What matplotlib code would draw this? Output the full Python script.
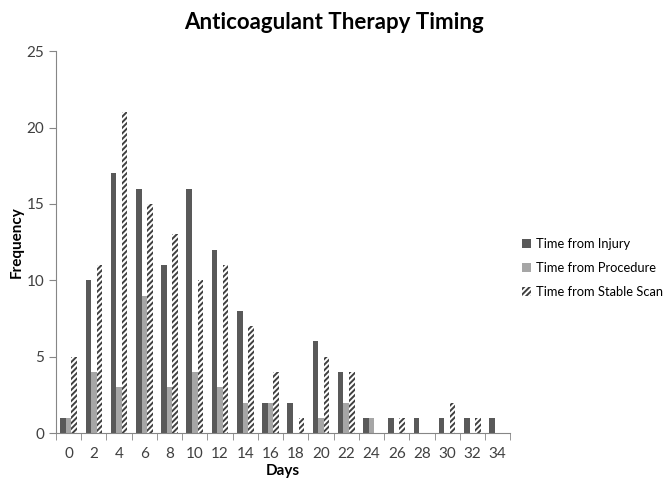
import matplotlib.pyplot as plt
import numpy as np

plt.rcParams['font.family'] = ['Lato', 'DejaVu Sans']
plt.rcParams['hatch.linewidth'] = 1.4

days = [0, 2, 4, 6, 8, 10, 12, 14, 16, 18, 20, 22, 24, 26, 28, 30, 32, 34]
injury = [1, 10, 17, 16, 11, 16, 12, 8, 2, 2, 6, 4, 1, 1, 1, 1, 1, 1]
procedure = [1, 4, 3, 9, 3, 4, 3, 2, 2, 0, 1, 2, 1, 0, 0, 0, 0, 0]
stable = [5, 11, 21, 15, 13, 10, 11, 7, 4, 1, 5, 4, 0, 1, 0, 2, 1, 0]

fig = plt.figure(figsize=(6.67, 4.78), dpi=100)
ax = fig.add_axes([0.084, 0.094, 0.681, 0.799])

x = np.arange(len(days))
w = 0.22
ax.bar(x - w, injury, w, color='#595959', label='Time from Injury')
ax.bar(x, procedure, w, color='#a6a6a6', label='Time from Procedure')
ax.bar(x + w, stable, w, color='white', edgecolor='#404040', linewidth=0,
       hatch='//////', label='Time from Stable Scan')

ax.set_xlim(-0.5, len(days) - 0.5)
ax.set_ylim(0, 25)
ax.set_yticks(range(0, 26, 5))
ax.set_xticks(x)
ax.set_xticklabels([str(d) for d in days])
ax.set_xticks(np.arange(-0.5, len(days), 1), minor=True)
ax.tick_params(axis='x', which='major', length=0, pad=10)
ax.tick_params(axis='x', which='minor', length=5, color='#868686')
ax.tick_params(axis='y', length=5, color='#868686')
ax.tick_params(labelsize=11, labelcolor='#404040')

for s in ['top', 'right']:
    ax.spines[s].set_visible(False)
for s in ['left', 'bottom']:
    ax.spines[s].set_color('#868686')

ax.set_xlabel('Days', fontsize=11, fontweight='bold')
ax.xaxis.set_label_coords(0.5, -0.082)
ax.set_ylabel('Frequency', fontsize=11, fontweight='bold')
ax.yaxis.set_label_coords(-0.072, 0.5)
fig.text(0.5, 0.952, 'Anticoagulant Therapy Timing', ha='center', va='center',
         fontsize=16, fontweight='bold')

ax.legend(loc='center left', bbox_to_anchor=(0.783, 0.439),
          bbox_transform=fig.transFigure, frameon=False, borderpad=0,
          borderaxespad=0, fontsize=9.3, handlelength=0.7, handleheight=0.7,
          handletextpad=0.4, labelspacing=0.95)

fig.savefig('out.png', dpi=100)
